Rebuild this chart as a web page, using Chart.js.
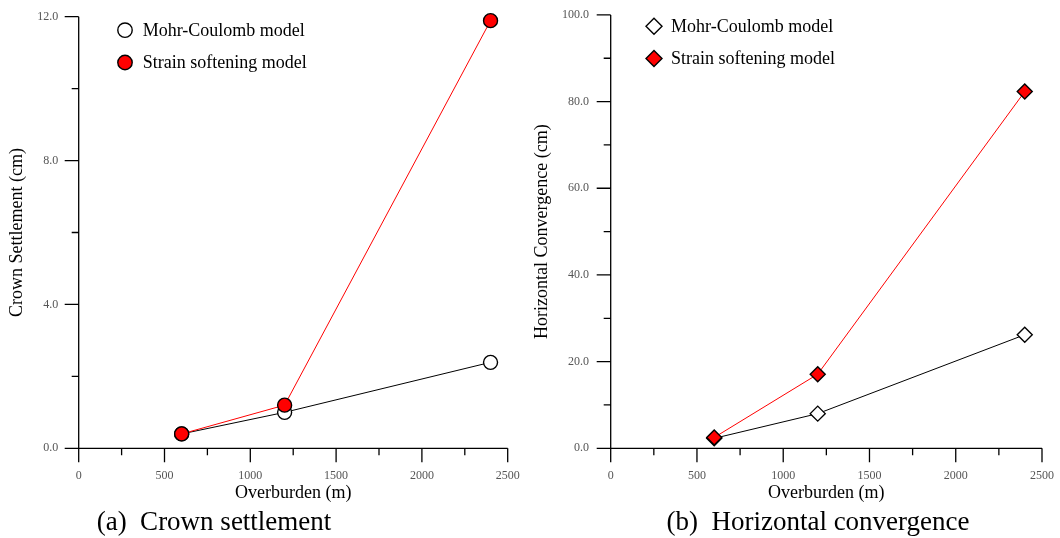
<!DOCTYPE html>
<html>
<head>
<meta charset="utf-8">
<script src="https://cdn.jsdelivr.net/npm/chart.js@4.4.1/dist/chart.umd.min.js"></script>
<style>
    body { margin: 0; width: 1060px; height: 538px; background: #fff; position: relative; overflow: hidden; font-family: 'Liberation Serif', serif; }
    .panel { position: absolute; top: 0; width: 530px; height: 538px; }
    .caption { position: absolute; top: 505px; font-size: 27px; line-height: 32px; white-space: pre; color: #000; transform: translateX(-50%); }
</style>
</head>
<body>
<div class="panel" style="left:0"><canvas id="settlement-chart" width="530" height="538"></canvas></div>
<div class="panel" style="left:530px"><canvas id="convergence-chart" width="530" height="538"></canvas></div>
<div class="caption" style="left:214px">(a)  Crown settlement</div>
<div class="caption" style="left:818px">(b)  Horizontal convergence</div>
<script>
// overburden depth (m) and results
const OVERBURDEN = [600, 1200, 2400];
const SETTLEMENT_MC = [0.4, 1.0, 2.39];
const SETTLEMENT_SS = [0.4, 1.2, 11.89];
const CONVERGENCE_MC = [2.3, 8.0, 26.2];
const CONVERGENCE_SS = [2.5, 17.1, 82.3];
const SERIES = ['Mohr-Coulomb model', 'Strain softening model'];

// labelled ticks, the rest are minor
const X_LABELS = [0, 500, 1000, 1500, 2000, 2500];
const SETTLEMENT_LABELS = [0, 4, 8, 12];
const CONVERGENCE_LABELS = [0, 20, 40, 60, 80, 100];

const SERIF = 'Liberation Serif';
const H = 538;

// axis lines with long/short ticks, the zero ticks run past the corner
const axisFrame = {
    id: 'axisFrame',
    beforeDatasetsDraw(chart, args, opts) {
        const ctx = chart.ctx;
        const area = chart.chartArea;
        const xs = chart.scales.x;
        const ys = chart.scales.y;
        ctx.save();
        ctx.strokeStyle = '#000';
        ctx.lineWidth = 1.3;
        ctx.beginPath();
        ctx.moveTo(area.left, area.top);
        ctx.lineTo(area.left, area.bottom);
        ctx.lineTo(area.right, area.bottom);
        xs.ticks.forEach(t => {
            const px = xs.getPixelForValue(t.value);
            const len = X_LABELS.includes(t.value) ? 14 : 7;
            ctx.moveTo(px, area.bottom);
            ctx.lineTo(px, area.bottom + len);
        });
        ys.ticks.forEach(t => {
            const py = ys.getPixelForValue(t.value);
            const len = opts.yLabels.includes(t.value) ? 14 : 7;
            ctx.moveTo(area.left, py);
            ctx.lineTo(area.left - len, py);
        });
        ctx.stroke();
        ctx.restore();
    }
};

// legend drawn inside the plot, top left
const seriesKey = {
    id: 'seriesKey',
    afterDatasetsDraw(chart, args, opts) {
        const ctx = chart.ctx;
        const area = chart.chartArea;
        chart.data.datasets.forEach((ds, i) => {
            const cx = area.left + opts.x;
            const cy = area.top + opts.y + i * opts.gap;
            const r = opts.radius;
            ctx.save();
            ctx.fillStyle = ds.pointBackgroundColor;
            ctx.strokeStyle = ds.pointBorderColor;
            ctx.lineWidth = ds.pointBorderWidth;
            ctx.beginPath();
            if (ds.pointStyle === 'rectRot') {
                ctx.moveTo(cx - r, cy);
                ctx.lineTo(cx, cy - r);
                ctx.lineTo(cx + r, cy);
                ctx.lineTo(cx, cy + r);
                ctx.closePath();
            } else {
                ctx.arc(cx, cy, r, 0, Math.PI * 2);
            }
            ctx.fill();
            ctx.stroke();
            ctx.fillStyle = '#000';
            ctx.font = '18px "' + SERIF + '"';
            ctx.textBaseline = 'middle';
            ctx.fillText(ds.label, area.left + opts.textX, cy + 1);
            ctx.restore();
        });
    }
};

function points(ys) {
    return OVERBURDEN.map((x, i) => ({ x: x, y: ys[i] }));
}

// lower order is painted on top, so the red series sits over the black one
function series(label, values, style, radius, fill, line, order) {
    return {
        label: label,
        data: points(values),
        order: order,
        borderColor: line,
        borderWidth: 1,
        pointStyle: style,
        pointRadius: radius,
        pointBackgroundColor: fill,
        pointBorderColor: '#000',
        pointBorderWidth: 1.4,
        clip: false,
        tension: 0
    };
}

function createGraph(element, cfg) {
    Chart.defaults.font.family = SERIF;
    return new Chart(element, {
        type: 'line',
        data: { datasets: cfg.datasets },
        plugins: [axisFrame, seriesKey],
        options: {
            responsive: false,
            animation: false,
            layout: { padding: { left: 0, top: cfg.top, right: cfg.right, bottom: 33.2 } },
            plugins: {
                legend: { display: false },
                tooltip: { enabled: false },
                axisFrame: { yLabels: cfg.yLabels },
                seriesKey: cfg.key
            },
            scales: {
                x: {
                    type: 'linear',
                    min: 0,
                    max: 2500,
                    grid: { display: false, drawTicks: true, tickLength: 14 },
                    border: { display: false },
                    ticks: {
                        stepSize: 250,
                        autoSkip: false,
                        maxRotation: 0,
                        padding: 6,
                        color: '#555',
                        font: { family: SERIF, size: 12 },
                        callback: v => X_LABELS.includes(v) ? String(v) : ''
                    },
                    title: {
                        display: true,
                        text: 'Overburden (m)',
                        color: '#000',
                        font: { family: SERIF, size: 18 },
                        padding: { top: 0, bottom: 0.4 }
                    },
                    afterFit: s => { s.height = H - 33.2 - 448.3; }
                },
                y: {
                    min: 0,
                    max: cfg.yMax,
                    grid: { display: false, drawTicks: true, tickLength: 14 },
                    border: { display: false },
                    ticks: {
                        stepSize: cfg.yStep,
                        autoSkip: false,
                        padding: cfg.tickPad,
                        color: '#555',
                        font: { family: SERIF, size: 12 },
                        callback: v => cfg.yLabels.includes(v) ? v.toFixed(1) : ''
                    },
                    title: {
                        display: true,
                        text: cfg.yTitle,
                        color: '#000',
                        font: { family: SERIF, size: 18 },
                        padding: { top: cfg.titlePad, bottom: 0 }
                    },
                    afterFit: s => { s.width = cfg.left; }
                }
            }
        }
    });
}

createGraph(document.getElementById('settlement-chart'), {
    datasets: [
        series(SERIES[0], SETTLEMENT_MC, 'circle', 7, '#ffffff', '#000000', 1),
        series(SERIES[1], SETTLEMENT_SS, 'circle', 7, '#ff0000', '#ff0000', 0)
    ],
    top: 16.7,
    right: 22.3,
    left: 78.7,
    yMax: 12,
    yStep: 2,
    yLabels: SETTLEMENT_LABELS,
    yTitle: 'Crown Settlement (cm)',
    tickPad: 6.4,
    titlePad: 6.2,
    key: { x: 46.3, y: 13.5, gap: 32.3, textX: 64, radius: 7.2 }
});

createGraph(document.getElementById('convergence-chart'), {
    datasets: [
        series(SERIES[0], CONVERGENCE_MC, 'rectRot', 7.5, '#ffffff', '#000000', 1),
        series(SERIES[1], CONVERGENCE_SS, 'rectRot', 7.5, '#ff0000', '#ff0000', 0)
    ],
    top: 13.7,
    right: 14,
    left: 80.7,
    yMax: 100,
    yStep: 10,
    yLabels: CONVERGENCE_LABELS,
    yTitle: 'Horizontal Convergence (cm)',
    tickPad: 7.7,
    titlePad: 1.2,
    key: { x: 43.3, y: 11.3, gap: 32.3, textX: 60.3, radius: 8 }
});
</script>
</body>
</html>
